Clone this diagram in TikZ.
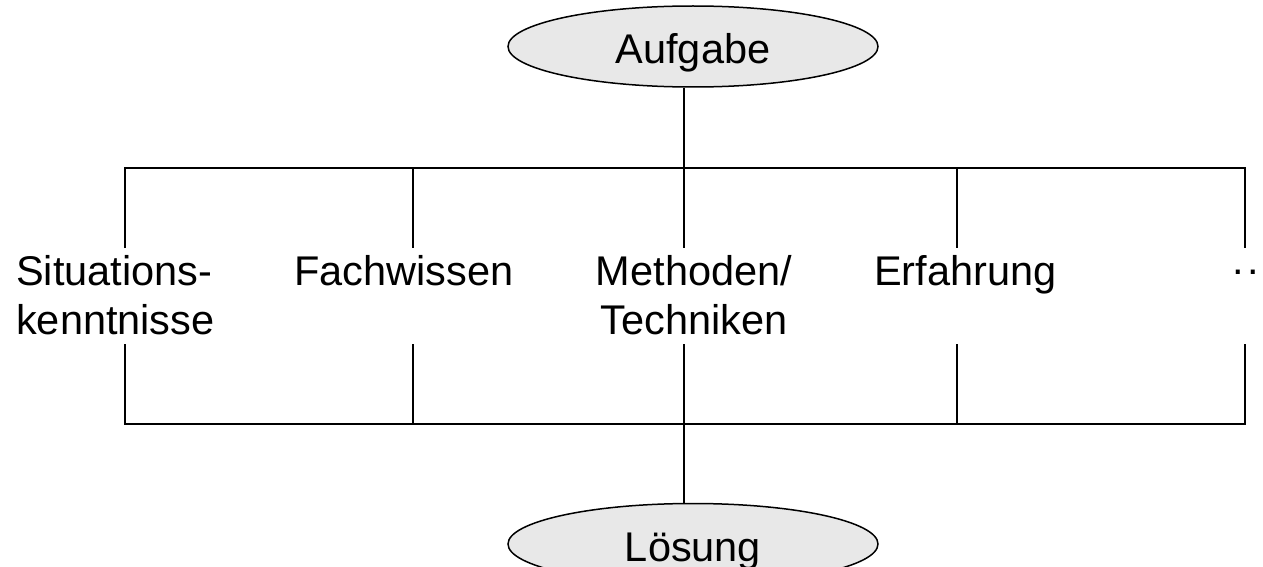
\documentclass[tikz,border=0pt]{standalone}
\usepackage{fontspec}
\setmainfont{Liberation Sans}
\usetikzlibrary{shapes.geometric}
\begin{document}
\begin{tikzpicture}[x=1pt,y=-1pt,
  every node/.style={font=\fontsize{41.5}{49}\selectfont, inner sep=0pt},
  ell/.style={ellipse, draw, line width=1.5pt, fill=black!9, minimum width=370pt, minimum height=81pt, text height=34pt, text depth=0pt},
  conn/.style={line width=1.6pt},
  lbl/.style={anchor=base west, align=left},
  lblc/.style={anchor=base, align=center}]
\useasboundingbox (0,0) rectangle (1263,567);
\node[ell] (auf) at (693,46.5) {Aufgabe};
\node[ell] (loe) at (693,544) {Lösung};
\coordinate (t) at (684,168);
\coordinate (b) at (684,424);
\draw[conn] (t |- auf.south) -- (t);
\draw[conn] (b) -- (b |- loe.north);
\draw[conn] (125,248) -- (125,168) -- (1245,168) -- (1245,248);
\draw[conn] (125,344) -- (125,424) -- (1245,424) -- (1245,344);
\foreach \x in {413,684,957}{
  \draw[conn] (\x,168) -- (\x,248);
  \draw[conn] (\x,344) -- (\x,424);
}
\node[lbl] (sit) at (16,334) {Situations-\\kenntnisse};
\node[lbl] (fach) at (294,285) {Fachwissen};
\node[lblc] (meth) at (694,334) {Methoden/\\Techniken};
\node[lbl] (erf) at (874,285) {Erfahrung};
\node[anchor=base] (dots) at (1245.5,274) {.\kern3.5pt.};
\end{tikzpicture}
\end{document}
